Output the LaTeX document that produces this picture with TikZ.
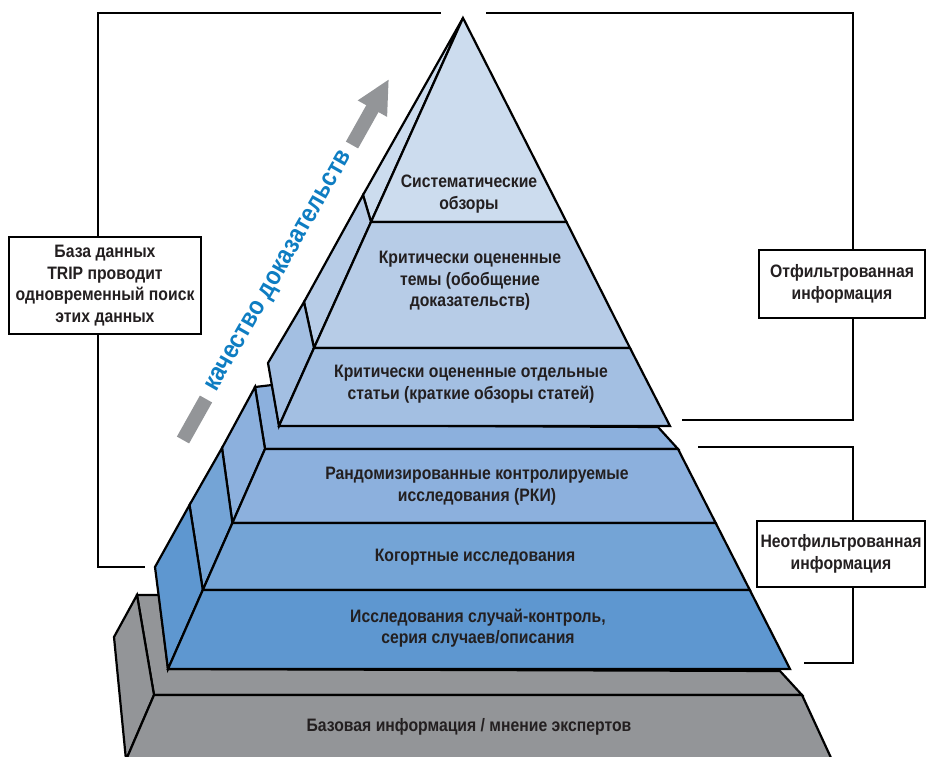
\documentclass[tikz,border=0pt]{standalone}
\usepackage{fontspec}
\setmainfont[FakeStretch=0.875]{Liberation Sans}
\usepackage{xcolor}
\usetikzlibrary{arrows.meta}
\definecolor{lvlA}{HTML}{CCDCEE}
\definecolor{lvlB}{HTML}{B7CCE7}
\definecolor{lvlC}{HTML}{A3BFE2}
\definecolor{lvlD}{HTML}{8CB0DD}
\definecolor{lvlE}{HTML}{74A4D6}
\definecolor{lvlF}{HTML}{5E97D0}
\definecolor{basegray}{HTML}{939598}
\definecolor{qblue}{HTML}{0E7DC2}
\definecolor{ink}{HTML}{231F20}
\tikzset{
  lbl/.style={align=center, font=\bfseries\fontsize{18}{21.5}\selectfont, text=ink},
  infobox/.style={draw, line width=2.2pt, fill=white, align=center, font=\bfseries\fontsize{18}{21.5}\selectfont, text=ink},
  brk/.style={line width=2.2pt}
}

\begin{document}
\begin{tikzpicture}[x=1pt, y=-1pt, line width=2.2pt]
        \useasboundingbox (0,0) rectangle (927,756);

        % base
        \filldraw[fill=basegray] (137,595) -- (159,595) -- (168,669) -- (780,671) -- (802,695) -- (154,695) -- cycle;
        \filldraw[fill=basegray] (137,595) -- (154,695) -- (126,760) -- (114,637) -- cycle;
        \filldraw[fill=basegray] (154,695) -- (802,695) -- (832,760) -- (126,760) -- cycle;

        % lower block
        \filldraw[fill=lvlD] (255,387) -- (272,385) -- (279,425) -- (658,427) -- (678,449) -- (265,449) -- cycle;
        \filldraw[fill=lvlD] (255,387) -- (265,449) -- (232.4,523) -- (222,448) -- cycle;
        \filldraw[fill=lvlE] (222,448) -- (232.4,523) -- (202.8,590) -- (189.5,505) -- cycle;
        \filldraw[fill=lvlF] (189.5,505) -- (202.8,590) -- (168,669) -- (155,567) -- cycle;
        \filldraw[fill=lvlD] (265,449) -- (678,449) -- (715.7,523) -- (232.4,523) -- cycle;
        \filldraw[fill=lvlE] (232.4,523) -- (715.7,523) -- (749.8,590) -- (202.8,590) -- cycle;
        \filldraw[fill=lvlF] (202.8,590) -- (749.8,590) -- (790,669) -- (168,669) -- cycle;

        % upper block
        \filldraw[fill=lvlA] (463,18) -- (363,195) -- (371,222) -- cycle;
        \filldraw[fill=lvlB] (363,195) -- (304,302) -- (314,348) -- (371,222) -- cycle;
        \filldraw[fill=lvlC] (304,302) -- (268,363) -- (279,426) -- (314,348) -- cycle;
        \filldraw[fill=lvlA] (463,18) -- (566.5,222) -- (371,222) -- cycle;
        \filldraw[fill=lvlB] (371,222) -- (566.5,222) -- (630,348) -- (314,348) -- cycle;
        \filldraw[fill=lvlC] (314,348) -- (630,348) -- (670,426) -- (279,426) -- cycle;

        \node[lbl] (sr) at (469,194) {Систематические\\обзоры};
        \node[lbl] (ct) at (470,281) {Критически оцененные\\темы (обобщение\\доказательств)};
        \node[lbl] (ca) at (471,384) {Критически оцененные отдельные\\статьи (краткие обзоры статей)};
        \node[lbl] (rct) at (477,486) {Рандомизированные контролируемые\\исследования (РКИ)};
        \node[lbl] (coh) at (475,557) {Когортные исследования};
        \node[lbl] (cc) at (478,628) {Исследования случай-контроль,\\серия случаев/описания};
        \node[lbl] (base) at (469,727) {Базовая информация / мнение экспертов};

        % quality arrow
        \coordinate (a1) at (183,440);
        \coordinate (a2) at (206,399);
        \coordinate (a3) at (352,145);
        \coordinate (a4) at (389,79);
        \draw[line width=14pt, basegray] (a1) -- (a2);
        \draw[line width=14pt, basegray, -{Triangle[length=34pt, width=31pt]}] (a3) -- (a4);
        \node[rotate=60.3, text=qblue, font=\bfseries\fontsize{26}{28}\selectfont] (q) at (280,272) {качество доказательств};

        % side boxes
        \node[infobox, minimum width=192pt, minimum height=97pt] (trip) at (105,285.5) {База данных\\TRIP проводит\\одновременный поиск\\этих данных};
        \node[infobox, minimum width=166pt, minimum height=68pt] (filt) at (842,284) {Отфильтрованная\\информация};
        \node[infobox, minimum width=168pt, minimum height=66pt] (unf) at (841,554) {Неотфильтрованная\\информация};

        \coordinate (lt) at (98,13);
        \coordinate (lm) at (441,13);
        \coordinate (lb) at (98,567);
        \coordinate (le) at (145,567);
        \coordinate (rm) at (486,13);
        \coordinate (rt) at (853,13);
        \coordinate (rb) at (853,420);
        \coordinate (re) at (682,420);
        \coordinate (ut) at (853,447);
        \coordinate (us) at (698,447);
        \coordinate (ub) at (853,663);
        \coordinate (ue) at (804,663);

        \draw[brk] (trip.north -| lt) -- (lt) -- (lm);
        \draw[brk] (trip.south -| lt) -- (lb) -- (le);
        \draw[brk] (rm) -- (rt) -- (filt.north -| rt);
        \draw[brk] (filt.south -| rt) -- (rb) -- (re);
        \draw[brk] (us) -- (ut) -- (unf.north -| ut);
        \draw[brk] (unf.south -| ut) -- (ub) -- (ue);
    \end{tikzpicture}
\end{document}
